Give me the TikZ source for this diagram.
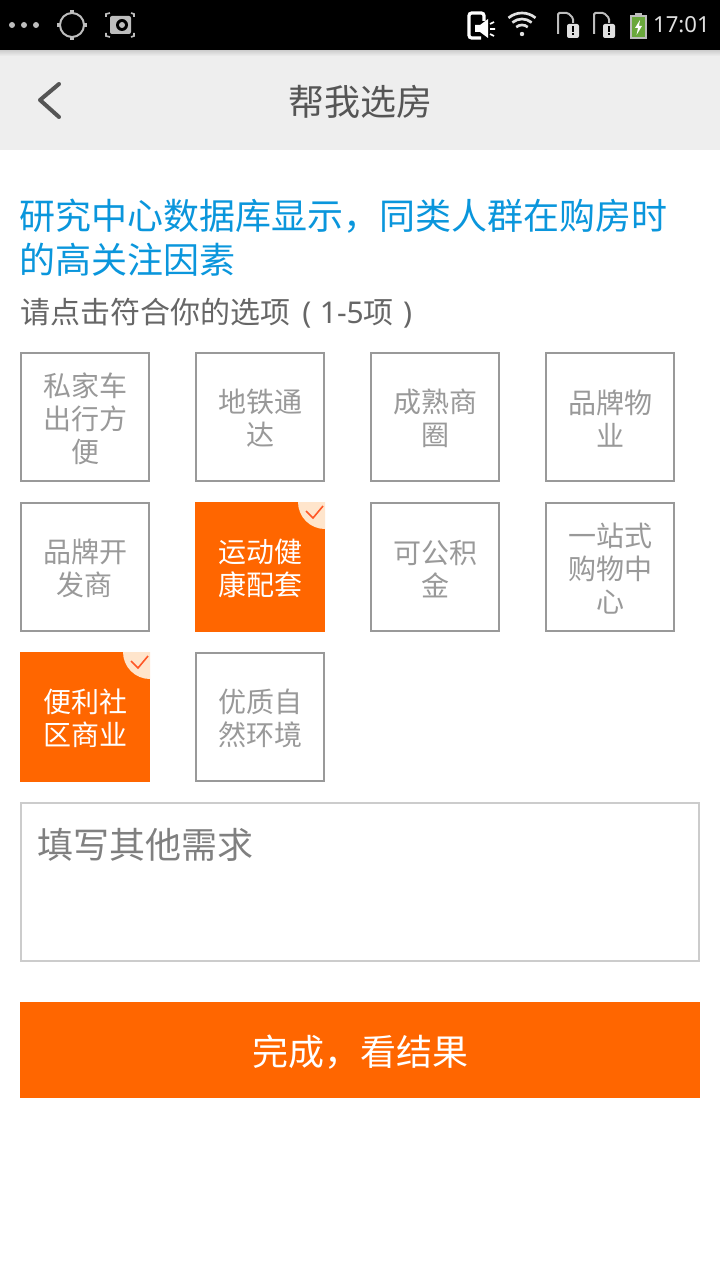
\documentclass[tikz,border=0pt]{standalone}
\usepackage{fontspec}
\setmainfont{Noto Sans CJK SC}
\newfontfamily\latnfont{Noto Sans}
\usepackage{tikz}
\usetikzlibrary{calc}
\definecolor{orng}{HTML}{FF6600}
\definecolor{hdbg}{HTML}{EEEEEE}
\definecolor{hdtx}{HTML}{555555}
\definecolor{bltx}{HTML}{0A96DC}
\definecolor{subtx}{HTML}{666666}
\definecolor{tilegr}{HTML}{999999}
\definecolor{ticon}{HTML}{BDBDBD}
\definecolor{tlight}{HTML}{E0E0E0}
\definecolor{batt}{HTML}{6AA83C}
\newcommand{\fpx}[2]{\fontsize{#1}{#2}\selectfont}
\tikzset{
  tile/.style={draw=tilegr,line width=1.5pt,minimum size=96pt,inner sep=0pt,anchor=north west,
    align=center,text=tilegr,text width=90pt,text height=20pt,font=\fpx{21pt}{24.75pt}},
  tileon/.style={tile,draw=none,fill=orng,minimum size=97.5pt,outer sep=0pt,text=white},
  icon/.style={ticon,line width=1.5pt},
}
\begin{document}
\begin{tikzpicture}[x=0.75pt,y=-0.75pt]
  \useasboundingbox (0,0) rectangle (720,1280);
  \fill[white] (0,0) rectangle (720,1280);
  % bars
  \fill[hdbg] (0,50) rectangle (720,150);
  \shade[top color=black!14!hdbg,bottom color=hdbg] (0,50) rectangle (720,56);
  \fill[black] (0,0) rectangle (720,50);
  \node[font=\fpx{27pt}{33pt},text=hdtx] (title) at (360,102) {帮我选房};
  \draw[hdtx,line width=3pt,line cap=round,line join=round] (59,84) -- (40,100) -- (59,117);
  % status icons, left
  \foreach \x in {12,24,36}
    \fill[ticon] (\x,25) circle (3);
  \draw[icon] (72,25) circle (12);
  \foreach \dx/\dy in {-15/0,15/0,0/-15,0/15}
    \draw[icon,line width=2.5pt] ($(72,25)+(\dx,\dy)$) -- ($(72,25)+0.75*(\dx,\dy)$);
  \fill[ticon,rounded corners=1.5pt] (110,16) rectangle (131,34);
  \fill[black] (122,25) circle (6);
  \fill[ticon] (122,25) circle (3);
  \draw[ticon,line width=1.2pt] (106,17) -- (106,14) -- (110,13) (131,13) -- (134,14) -- (134,17)
    (106,33) -- (106,36) -- (110,37) (131,37) -- (134,36) -- (134,33);
  % status icons, right
  \draw[white,line width=2.4pt,rounded corners=2pt] (484,21) -- (484,13) -- (469,13) -- (469,38) -- (481,38);
  \fill[white] (475,25) -- (480,25) -- (488,19) -- (488,38) -- (480,32) -- (475,32) -- cycle;
  \draw[white,line width=1.2pt] (490,24) -- (494,22) (490,29) -- (495,29) (490,34) -- (494,36);
  \foreach \r in {9,15,21}
    \draw[tlight,line width=2pt] ($(522,34)+(-130:\r)$) arc[start angle=-130,end angle=-50,radius=\r];
  \fill[tlight] (522,34) circle (2.2);
  \foreach \x in {557,593} {
    \draw[ticon,line width=1.5pt,rounded corners=1pt] (\x+1,34) -- (\x+1,13) -- (\x+11,13) -- (\x+16,18) -- (\x+16,23);
    \fill[tlight,rounded corners=1.5pt] (\x+10,24) rectangle (\x+22,38);
    \fill[black] (\x+15,26.5) rectangle (\x+17,32);
    \fill[black] (\x+15,33.5) rectangle (\x+17,35.5);
  }
  \draw[ticon,line width=1.5pt,fill=batt] (631,16) rectangle (646,38);
  \fill[ticon] (635,13) rectangle (642,16);
  \fill[white] (640,20) -- (635,28) -- (638,28) -- (636.5,35) -- (642,26) -- (639,26) -- cycle;
  \node[font=\latnfont\fpx{16.6pt}{18pt},text=tlight,anchor=east,inner sep=0pt] (clock) at (710,25) {17:01};
  % heading
  \node[font=\fpx{27pt}{33pt},text=bltx,anchor=north west,inner sep=0pt,align=left] (head) at (19.5,199)
    {研究中心数据库显示，同类人群在购房时\\的高关注因素};
  \node[font=\fpx{22.5pt}{26pt},text=subtx,anchor=west,inner sep=0pt] (sub) at (20,313.5)
    {请点击符合你的选项\hspace{9pt}{\latnfont(\hspace{6.5pt}1-5}项\hspace{7pt}{\latnfont)}};
  % tiles
  \node[tile] (car) at (20,352) {私家车\\出行方\\便};
  \node[tile] (metro) at (195,352) {地铁通\\达};
  \node[tile] (mall) at (370,352) {成熟商\\圈};
  \node[tile] (brand) at (545,352) {品牌物\\业};
  \node[tile] (dev) at (20,502) {品牌开\\发商};
  \node[tileon] (sport) at (195,502) {运动健\\康配套};
  \node[tile] (fund) at (370,502) {可公积\\金};
  \node[tile] (shop) at (545,502) {一站式\\购物中\\心};
  \node[tileon] (biz) at (20,652) {便利社\\区商业};
  \node[tile] (park) at (195,652) {优质自\\然环境};
  % ticks on the chosen tiles
  \foreach \n in {sport,biz} {
    \begin{scope}
      \clip (\n.north west) rectangle (\n.south east);
      \fill[orange!20!white] (\n.north east) circle (27);
    \end{scope}
    \draw[red!55!orange!85!white,line width=1.2pt] ($(\n.north east)+(-19,9)$) -- ($(\n.north east)+(-12,16)$) -- ($(\n.north east)+(-2,4)$);
  }
  % form
  \node[draw=black!20,line width=1.5pt,minimum width=508.5pt,minimum height=118.5pt,anchor=north west,inner sep=0pt] (memo) at (20,802) {};
  \node[font=\fpx{27pt}{33pt},text=black!50,anchor=west,inner sep=0pt] (hint) at (37,845) {填写其他需求};
  \node[fill=orng,minimum width=510pt,minimum height=72pt,outer sep=0pt,anchor=north west,inner sep=0pt,text=white,font=\fpx{27pt}{33pt}] (done) at (20,1002)
    {\raisebox{-1.5pt}[\height][\depth]{完成，看结果}};
\end{tikzpicture}
\end{document}
